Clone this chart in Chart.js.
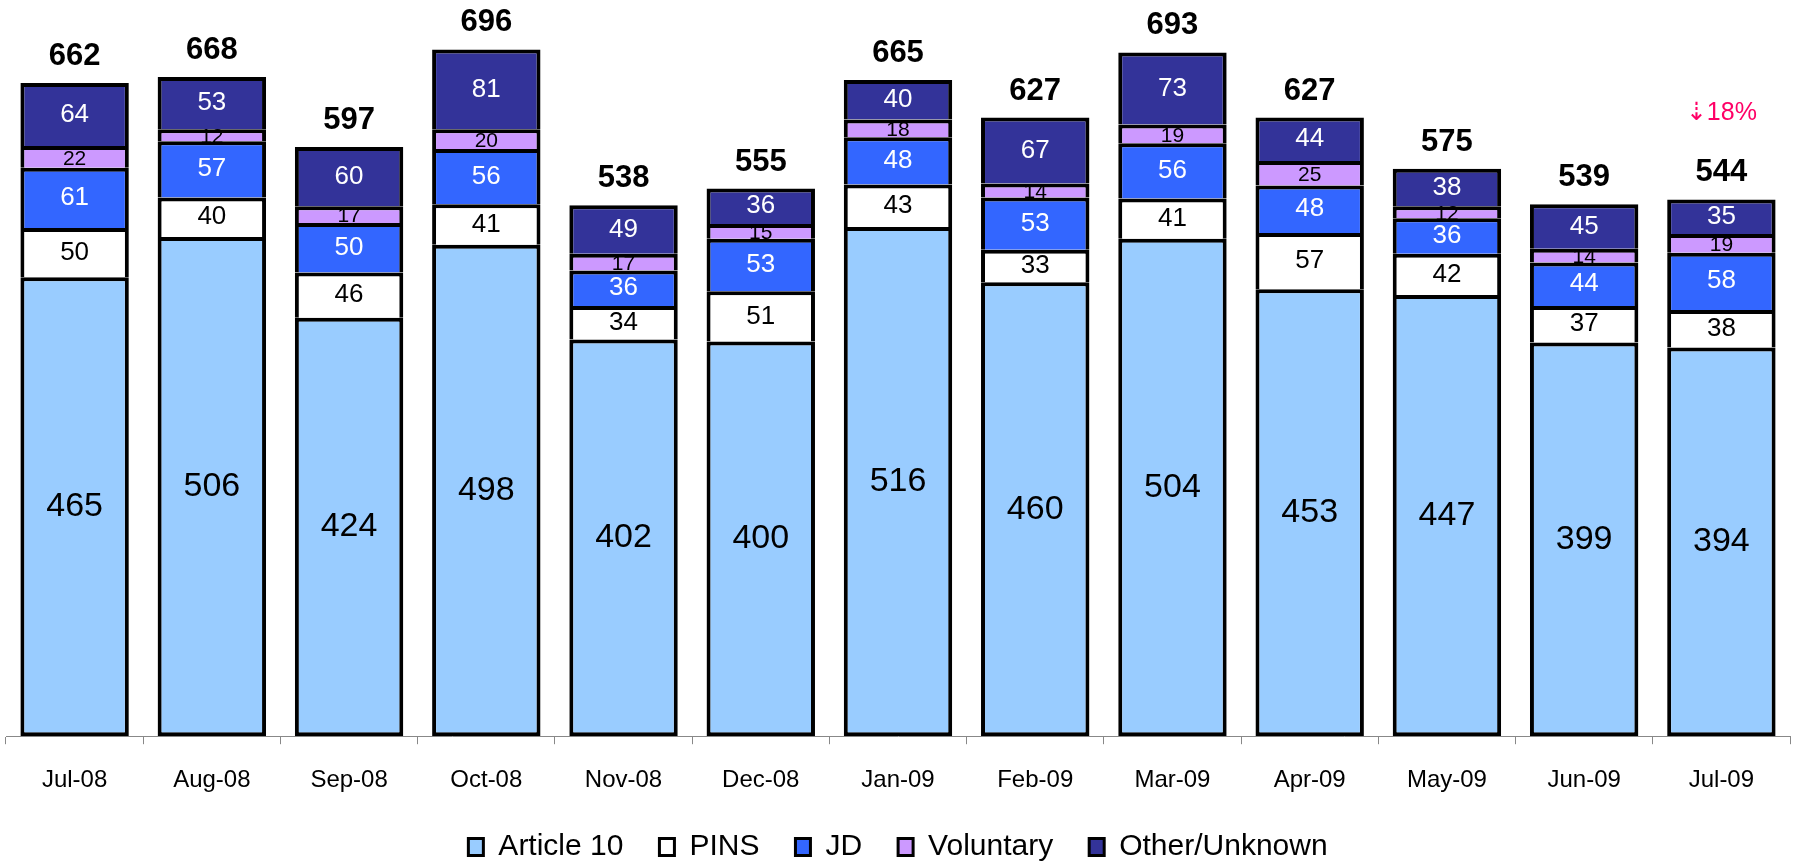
<!DOCTYPE html>
<html>
<head>
<meta charset="utf-8">
<script src="https://cdn.jsdelivr.net/npm/chart.js@4.4.0/dist/chart.umd.min.js"></script>
<style>
    html, body { margin: 0; padding: 0; background: #fff; }
    #wrap { width: 1793px; height: 865px; position: relative; }
</style>
</head>
<body>
<div id="wrap"><canvas id="barChart"></canvas></div>
<script>
const months = ['Jul-08', 'Aug-08', 'Sep-08', 'Oct-08', 'Nov-08', 'Dec-08', 'Jan-09',
    'Feb-09', 'Mar-09', 'Apr-09', 'May-09', 'Jun-09', 'Jul-09'];
const article10 = [465, 506, 424, 498, 402, 400, 516, 460, 504, 453, 447, 399, 394];
const pins = [50, 40, 46, 41, 34, 51, 43, 33, 41, 57, 42, 37, 38];
const jd = [61, 57, 50, 56, 36, 53, 48, 53, 56, 48, 36, 44, 58];
const voluntary = [22, 12, 17, 20, 17, 15, 18, 14, 19, 25, 12, 14, 19];
const otherUnknown = [64, 53, 60, 81, 49, 36, 40, 67, 73, 44, 38, 45, 35];
const changeNote = '\u21E318%';
const changeNoteValue = 631;

const FONT = '"Liberation Sans", Arial, sans-serif';

// labels inside each segment, totals on top, and the change note
const barLabels = {
    id: 'barLabels',
    afterDatasetsDraw(chart) {
        const ctx = chart.ctx;
        ctx.save();
        ctx.textAlign = 'center';
        ctx.textBaseline = 'middle';

        chart.data.datasets.forEach((ds, i) => {
            const meta = chart.getDatasetMeta(i);
            if (meta.hidden) return;
            ctx.font = ds.labelFont;
            ctx.fillStyle = ds.labelColor;
            meta.data.forEach((bar, j) => {
                const y = (bar.y + bar.base) / 2 + (ds.labelShift || 0);
                ctx.fillText(String(ds.data[j]), bar.x, y);
            });
        });

        const last = chart.getDatasetMeta(chart.data.datasets.length - 1);
        ctx.font = 'bold 31px ' + FONT;
        ctx.fillStyle = '#000';
        ctx.textBaseline = 'alphabetic';
        last.data.forEach((bar, j) => {
            const total = chart.data.datasets.reduce((s, ds) => s + ds.data[j], 0);
            ctx.fillText(String(total), bar.x, bar.y - 18);
        });

        const endBar = last.data[last.data.length - 1];
        ctx.font = '25px ' + FONT;
        ctx.fillStyle = '#FF0066';
        ctx.textBaseline = 'middle';
        ctx.fillText(changeNote, endBar.x, chart.scales.y.getPixelForValue(changeNoteValue));

        ctx.restore();
    }
};

const stackData = {
    labels: months,
    datasets: [
        {
            label: 'Article 10',
            data: article10,
            backgroundColor: '#99CCFF',
            borderSkipped: false,
            labelFont: '34px ' + FONT,
            labelColor: '#000',
        },
        {
            label: 'PINS',
            data: pins,
            backgroundColor: '#FFFFFF',
            labelFont: '26px ' + FONT,
            labelColor: '#000',
        },
        {
            label: 'JD',
            data: jd,
            backgroundColor: '#3366FF',
            labelFont: '26px ' + FONT,
            labelColor: '#FFF',
        },
        {
            label: 'Voluntary',
            data: voluntary,
            backgroundColor: '#CC99FF',
            labelFont: '21px ' + FONT,
            labelColor: '#000',
            labelShift: 2,
        },
        {
            label: 'Other/Unknown',
            data: otherUnknown,
            backgroundColor: '#333399',
            labelFont: '26px ' + FONT,
            labelColor: '#FFF',
        },
    ],
};

stackData.datasets.forEach(ds => {
    ds.borderColor = '#000';
    ds.borderWidth = 4;
    ds.categoryPercentage = 1;
    ds.barPercentage = 0.79;
});

new Chart(document.getElementById('barChart'), {
    type: 'bar',
    data: stackData,
    plugins: [barLabels],
    options: {
        responsive: true,
        maintainAspectRatio: false,
        animation: false,
        layout: {
            padding: { top: 6, left: 6, right: 3, bottom: -7 }
        },
        plugins: {
            legend: {
                display: true,
                position: 'bottom',
                labels: {
                    boxWidth: 15,
                    boxHeight: 17,
                    padding: 36,
                    color: '#000',
                    font: { family: FONT, size: 30 },
                    generateLabels(chart) {
                        return chart.data.datasets.map((ds, i) => ({
                            text: ds.label,
                            fillStyle: ds.backgroundColor,
                            strokeStyle: '#000',
                            lineWidth: 3,
                            hidden: false,
                            datasetIndex: i,
                        }));
                    }
                }
            },
            tooltip: { enabled: false },
            title: { display: false },
        },
        scales: {
            x: {
                stacked: true,
                border: { color: '#888', width: 1 },
                grid: {
                    offset: true,
                    drawOnChartArea: false,
                    drawTicks: true,
                    tickLength: 8,
                    color: '#888',
                },
                ticks: {
                    color: '#000',
                    padding: 22,
                    font: { family: FONT, size: 24 },
                    maxRotation: 0,
                },
                afterFit(scale) {
                    scale.height -= 21;
                }
            },
            y: {
                stacked: true,
                display: false,
                min: 0,
                max: 740,
            }
        }
    },
});
</script>
</body>
</html>
